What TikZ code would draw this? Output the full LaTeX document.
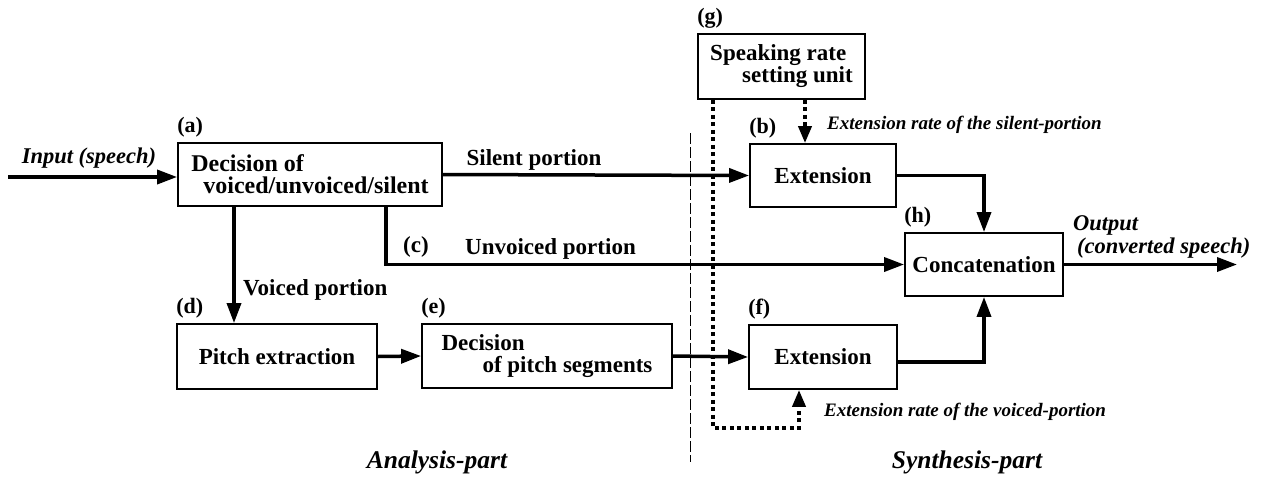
\documentclass[tikz,border=0pt]{standalone}
\usepackage{fontspec}
\setmainfont{Liberation Serif}
\usetikzlibrary{arrows.meta}
\begin{document}
\begin{tikzpicture}[x=1pt,y=-1pt,
  box/.style={draw, line width=1.8pt, rectangle, inner sep=0pt,
    font=\fontsize{23}{22}\selectfont\bfseries, align=left},
  tag/.style={font=\fontsize{22}{22}\selectfont\bfseries, anchor=south west, inner sep=0pt},
  lbl/.style={font=\fontsize{23}{23}\selectfont\bfseries, inner sep=0pt},
  ilbl/.style={font=\fontsize{22.5}{22}\selectfont\bfseries\itshape, inner sep=0pt},
  slbl/.style={font=\fontsize{19}{19}\selectfont\bfseries\itshape, inner sep=0pt, anchor=west},
  part/.style={font=\fontsize{25.5}{25}\selectfont\bfseries\itshape, inner sep=0pt},
  flow/.style={line width=3.5pt, -{Triangle[length=20pt,width=14pt]}},
  dotflow/.style={line width=3.8pt, dash pattern=on 4pt off 3.5pt, -{Triangle[length=17pt,width=13pt]}},
  divider/.style={line width=1pt, dash pattern=on 11pt off 3pt}]
\useasboundingbox (0,0) rectangle (1264,477);

% boxes
\node[box, font=\fontsize{24}{22}\selectfont\bfseries, minimum width=264pt, minimum height=63pt] (a) at (310,174.5)
  {Decision of\\\hspace*{12pt}voiced/unvoiced/silent};
\node[box, minimum width=167pt, minimum height=65pt] (g) at (781.5,66.5)
  {Speaking rate\\\hspace*{32pt}setting unit};
\node[box, minimum width=146pt, minimum height=63pt] (b) at (823,175.5) {Extension};
\node[box, minimum width=158pt, minimum height=63pt] (h) at (984,264.5) {Concatenation};
\node[box, minimum width=200pt, minimum height=65pt] (d) at (277,356.5) {Pitch extraction};
\node[box, minimum width=250pt, minimum height=64pt] (e) at (547,356)
  {Decision\\\hspace*{41pt}of pitch segments};
\node[box, minimum width=148pt, minimum height=64pt] (f) at (823,357) {Extension};

% tags
\node[tag] (ta) at ([yshift=5pt]a.north west) {(a)};
\node[tag] (tg) at ([yshift=5pt]g.north west) {(g)};
\node[tag] (tb) at ([yshift=5pt]b.north west) {(b)};
\node[tag] (th) at ([yshift=5pt]h.north west) {(h)};
\node[tag] (td) at ([yshift=5pt]d.north west) {(d)};
\node[tag] (te) at ([yshift=5pt]e.north west) {(e)};
\node[tag] (tf) at ([yshift=5pt]f.north west) {(f)};
\node[lbl] (tc) at (416,247) {(c)};

% coordinates
\coordinate (in) at (8,177);
\coordinate (out) at (1237,264.5);
\coordinate (corner) at (713,428);
\coordinate (dtop) at (690,133);
\coordinate (dbot) at (690,462);

% connectors
\draw[flow] (in) -- (in -| a.west);
\draw[flow] (a.east) -- (b.west);
\draw[flow] ([xshift=-76pt]a.south) -- ([xshift=-43pt]d.north);
\draw[flow] ([xshift=76pt]a.south) |- (h.west);
\draw[flow] (d.east) -- (e.west);
\draw[flow] (e.east) -- (f.west);
\draw[flow] (b.east) -| (h.north);
\draw[flow] ([yshift=-5pt]f.east) -| (h.south);
\draw[flow] (h.east) -- (out);
\draw[dotflow] ([xshift=23.5pt]g.south) -- ([xshift=-18pt]b.north);
\draw[dotflow] ([xshift=-68.5pt]g.south) |- (corner) -| ([xshift=-24pt]f.south);
\draw[divider] (dtop) -- (dbot);

% labels
\node[ilbl, anchor=center] (lin) at (89,158) {Input (speech)};
\node[lbl] (lsil) at (534,160) {Silent portion};
\node[lbl, anchor=west] (luv) at (465,249) {Unvoiced portion};
\node[lbl, anchor=west] (lv) at (243,290) {Voiced portion};
\node[ilbl, anchor=west] (lout1) at (1073,225) {Output};
\node[ilbl, anchor=west] (lout2) at (1077,248) {(converted speech)};
\node[slbl] (lrs) at (827,125) {Extension rate of the silent-portion};
\node[slbl] (lrv) at (824,412) {Extension rate of the voiced-portion};
\node[part] (pa) at (437,462) {Analysis-part};
\node[part] (ps) at (967,462) {Synthesis-part};
\end{tikzpicture}
\end{document}
